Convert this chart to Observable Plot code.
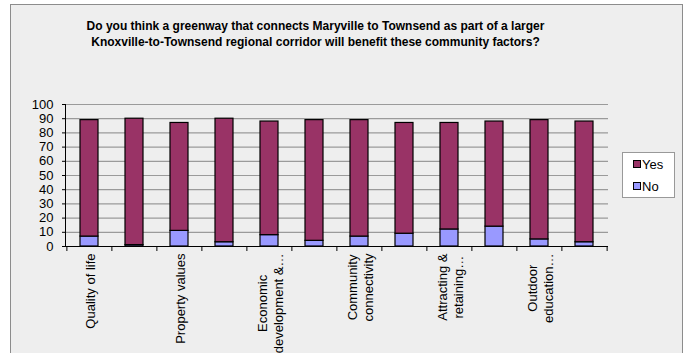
<!DOCTYPE html>
<html>
<head>
<meta charset="utf-8">
<script src="https://cdn.jsdelivr.net/npm/d3@7"></script>
<script src="https://cdn.jsdelivr.net/npm/@observablehq/plot@0.6"></script>
<style>
  body { margin: 0; background: #ffffff; }
  #wrap { position: relative; width: 694px; height: 353px; overflow: hidden; font-family: "Liberation Sans", Arial, sans-serif; }
  #frame { position: absolute; left: 10px; top: 4px; width: 671px; height: 370px; background: #eeeeee; border: 1px solid #8c8c8c; }
  #title { position: absolute; left: 0; top: 19px; width: 631px; text-align: center; font-weight: bold; font-size: 12px; line-height: 15.5px; color: #000; }
  #chart { position: absolute; left: 0; top: 0; }
  #legend { position: absolute; left: 622px; top: 152px; width: 51px; height: 44px; background: #fff; border: 1px solid #999; font-size: 13px; color: #000; }
  .li { position: absolute; left: 10px; height: 16px; line-height: 16px; }
  .sw { display: inline-block; width: 6px; height: 6px; border: 1px solid #000; margin-right: 1px; vertical-align: 1px; }
</style>
</head>
<body>
<div id="wrap">
  <div id="frame"></div>
  <div id="title">Do you think a greenway that connects Maryville to Townsend as part of a larger<br>Knoxville-to-Townsend regional corridor will benefit these community factors?</div>
  <div id="chart"></div>
  <div id="legend"></div>
</div>
<script>
const categories = ["Quality of life", "Factor 2", "Property values", "Factor 4", "Economic development & …", "Factor 6", "Community connectivity", "Factor 8", "Attracting & retaining …", "Factor 10", "Outdoor education …", "Factor 12"];
const tickLabels = ["Quality of life", "", "Property values", "", "Economic\ndevelopment &…", "", "Community\nconnectivity", "", "Attracting &\nretaining…", "", "Outdoor\neducation…", ""];
const noValues  = [7, 1, 11, 3, 8, 4, 7, 9, 12, 14, 5, 3];
const yesValues = [82, 89, 76, 87, 80, 85, 82, 78, 75, 74, 84, 85];
const seriesNames = ["Yes", "No"];
const seriesColors = ["#993366", "#9999ff"];
const yTicks = [0, 10, 20, 30, 40, 50, 60, 70, 80, 90, 100];

const rows = [];
categories.forEach((c, i) => {
  rows.push({cat: c, series: "No", value: noValues[i]});
  rows.push({cat: c, series: "Yes", value: yesValues[i]});
});

const W = 694, H = 353, mL = 65, mR = 86, mT = 104, mB = 107;
const step = (W - mL - mR) / categories.length;
const font = "13px 'Liberation Sans', Arial, sans-serif";

const ctx = document.createElement("canvas").getContext("2d");
ctx.font = font;
const labelMarks = [];
categories.forEach((c, i) => {
  const t = tickLabels[i];
  if (!t) return;
  const w = Math.max(...t.split("\n").map(s => ctx.measureText(s).width));
  labelMarks.push(Plot.text([c], {
    x: d => d, y: () => 0, text: () => t,
    rotate: -90, textAnchor: "middle", lineAnchor: "middle", lineHeight: 1.23,
    dy: 7 + w / 2, fontSize: 13, fill: "#000"
  }));
});

const chart = Plot.plot({
  width: W, height: H,
  marginLeft: mL, marginRight: mR, marginTop: mT, marginBottom: mB,
  style: {background: "transparent", fontFamily: "'Liberation Sans', Arial, sans-serif", fontSize: "13px", color: "#000"},
  x: {domain: categories, paddingInner: 0.6, paddingOuter: 0.3, axis: null, label: null},
  y: {domain: [0, 100], axis: null, label: null},
  color: {domain: seriesNames, range: seriesColors},
  marks: [
    Plot.gridY(yTicks.slice(1), {stroke: "#9a9a9a", strokeOpacity: 1, strokeWidth: 1.2}),
    Plot.barY(rows, Plot.stackY({x: "cat", y: "value", fill: "series", stroke: "#000", strokeWidth: 1.2, order: ["No", "Yes"]})),
    Plot.frame({anchor: "left", stroke: "#000"}),
    Plot.ruleY([0], {stroke: "#000"}),
    Plot.axisY(yTicks, {tickSize: 3, tickPadding: 9, fontSize: 13, stroke: "#000", fill: "#000", label: null}),
    Plot.axisX({tickSize: 5, tickFormat: () => "", dx: -step / 2, stroke: "#000", label: null}),
    Plot.axisX([categories[categories.length - 1]], {tickSize: 5, tickFormat: () => "", dx: step / 2, stroke: "#000", label: null}),
    ...labelMarks
  ]
});
document.getElementById("chart").appendChild(chart);

const legend = document.getElementById("legend");
seriesNames.forEach((s, i) => {
  const d = document.createElement("div");
  d.className = "li";
  d.style.top = (4 + i * 22) + "px";
  d.innerHTML = `<span class="sw" style="background:${seriesColors[i]}"></span>${s}`;
  legend.appendChild(d);
});
</script>
</body>
</html>
